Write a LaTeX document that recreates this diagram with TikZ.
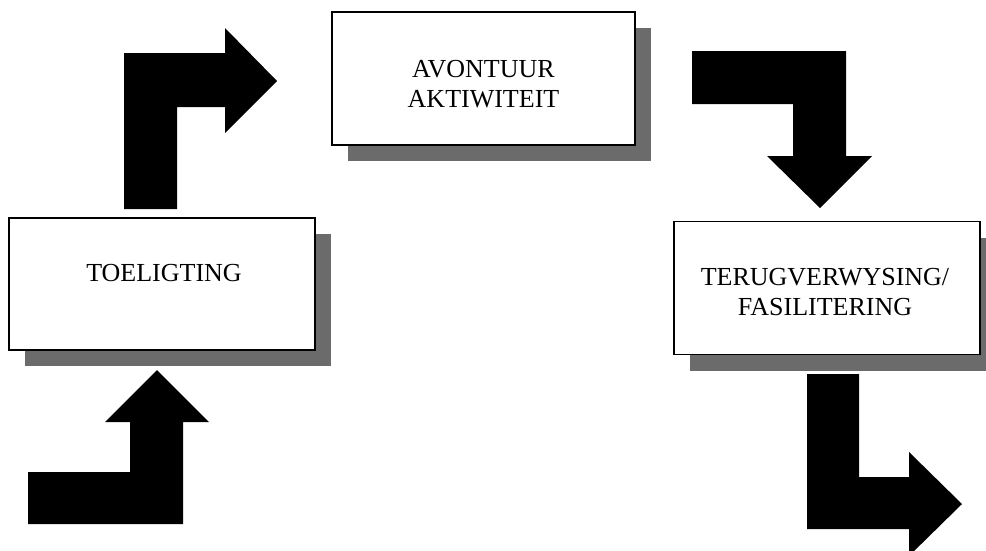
\documentclass[tikz,border=0pt]{standalone}
\usepackage{fontspec}
\setmainfont{Liberation Serif}
\usetikzlibrary{shadows}
\begin{document}
\begin{tikzpicture}[x=1pt,y=-1pt,
  panel/.style={draw=black, line width=1.5pt, fill=white, inner sep=0pt,
    general shadow={fill=black!58, shadow xshift=16pt, shadow yshift=-16pt}},
  label/.style={font=\fontsize{26}{30}\selectfont, align=center, inner sep=0pt},
  blockarrow/.style={fill=black}]
\useasboundingbox (0,0) rectangle (986,550);
% boxes
\node[panel, minimum width=306pt, minimum height=132pt] (toel) at (162,284) {};
\node[panel, minimum width=303pt, minimum height=133pt] (avon) at (483.5,78.5) {};
\node[panel, minimum width=306pt, minimum height=133pt] (terug) at (827,288) {};
% texts
\node[label] (toeltxt) at (164,273) {TOELIGTING};
\node[label] (avontxt) at (483.5,84) {AVONTUUR\\AKTIWITEIT};
\node[label] (terugtxt) at (825,292.5) {TERUGVERWYSING/\\FASILITERING};
% block arrows
\fill[blockarrow] (28,472) -- (130,472) -- (130,422) -- (105,422) -- (157,370)
  -- (209,422) -- (183,422) -- (183,524) -- (28,524) -- cycle;
\fill[blockarrow] (124,209) -- (124,53) -- (225,53) -- (225,28) -- (277,81)
  -- (225,133) -- (225,107) -- (177,107) -- (177,209) -- cycle;
\fill[blockarrow] (692,51) -- (846,51) -- (846,156) -- (872,156) -- (820,208)
  -- (767,156) -- (793,156) -- (793,104) -- (692,104) -- cycle;
\fill[blockarrow] (807,374) -- (859,374) -- (859,477) -- (909,477) -- (909,452)
  -- (962,504) -- (909,556) -- (909,529) -- (807,529) -- cycle;
\end{tikzpicture}
\end{document}
